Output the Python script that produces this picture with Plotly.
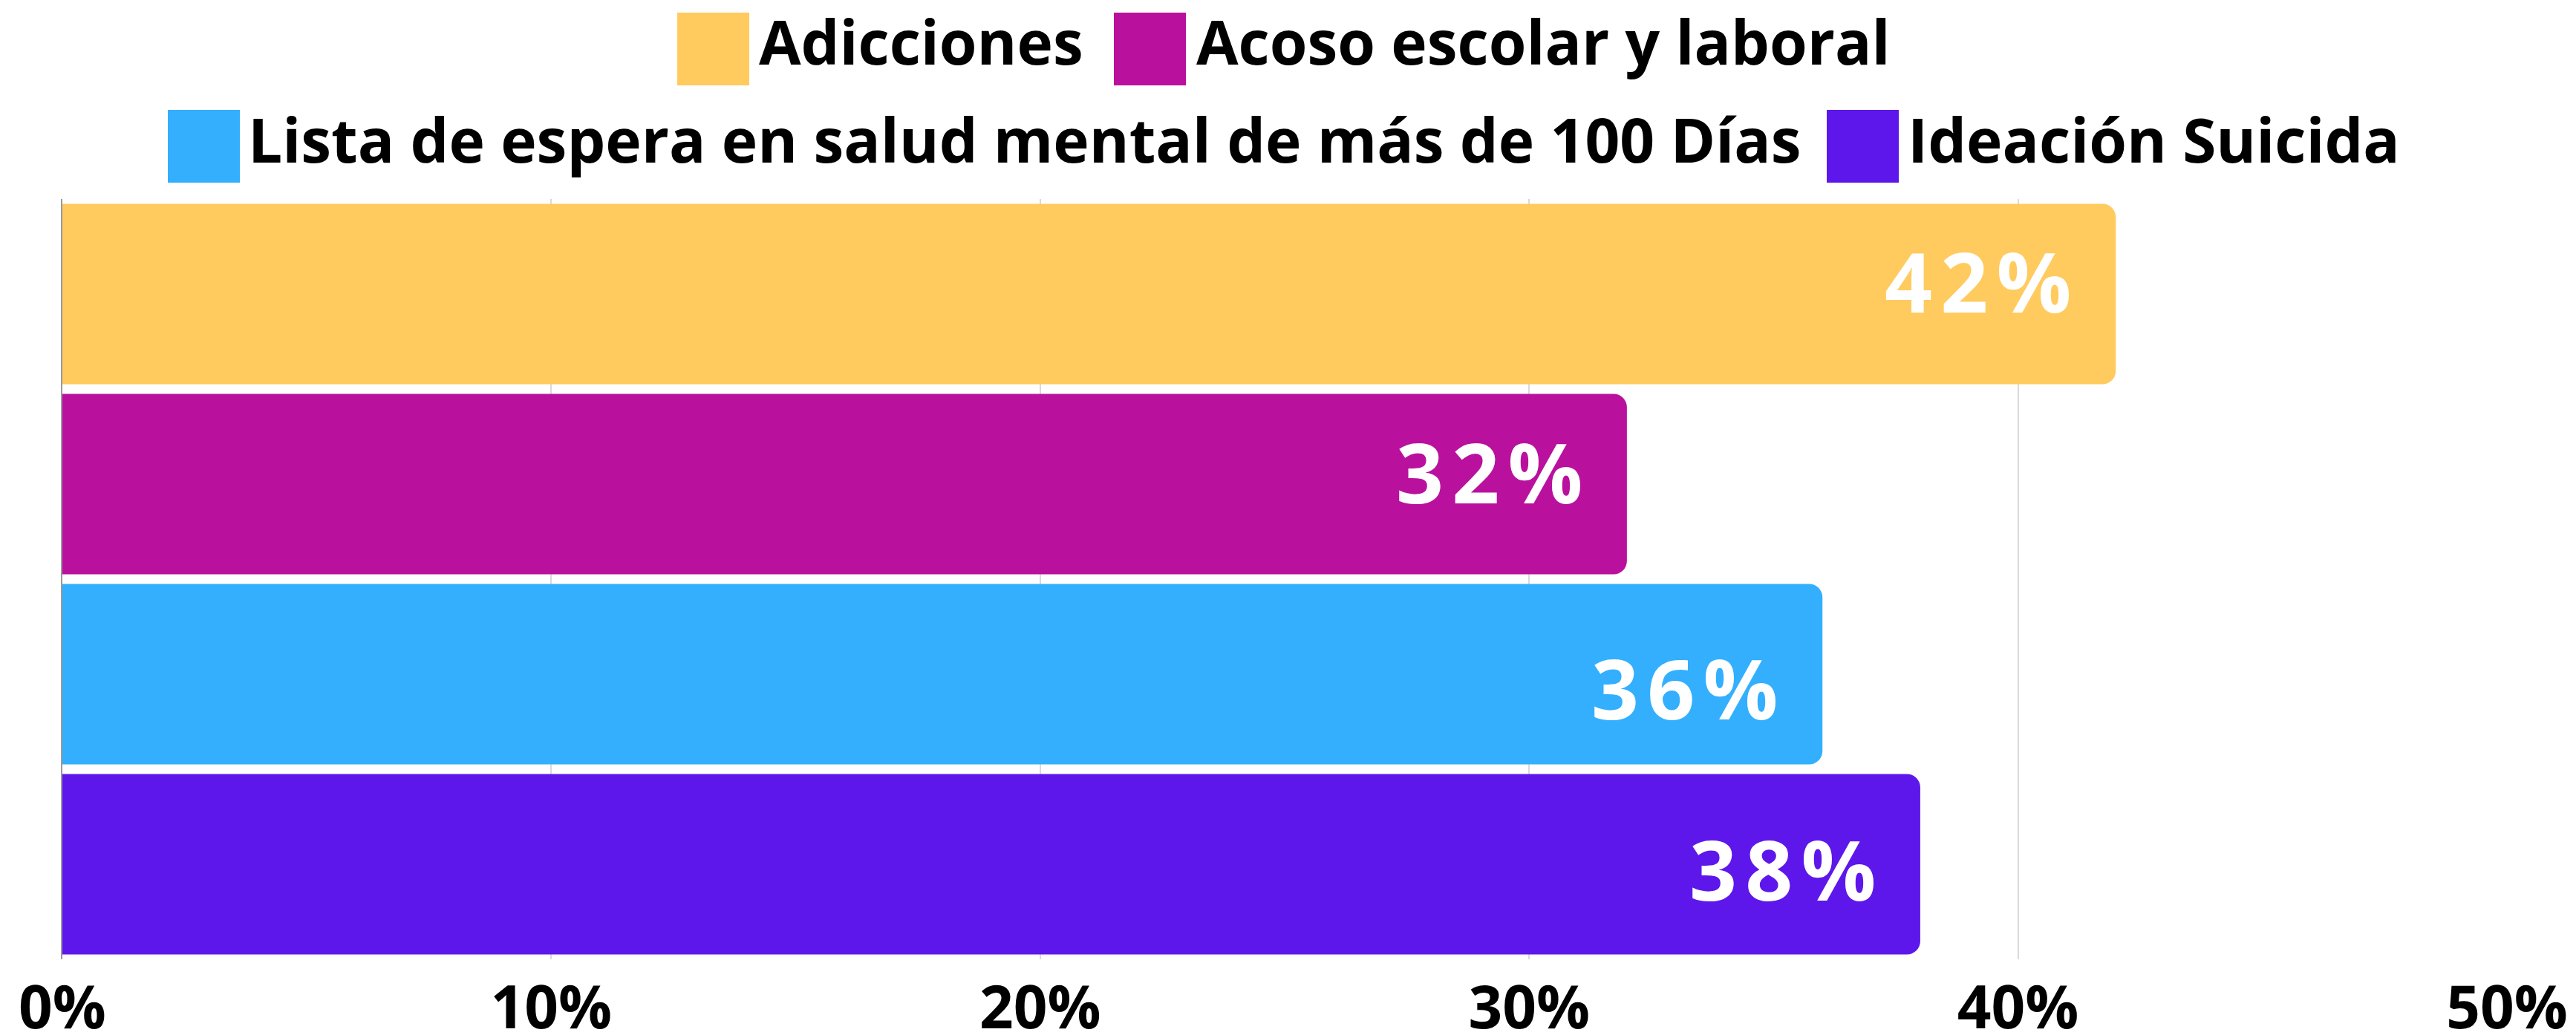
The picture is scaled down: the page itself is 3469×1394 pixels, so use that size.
import plotly.graph_objects as go

categories = ["Adicciones", "Acoso escolar y laboral",
              "Lista de espera en salud mental de más de 100 Días", "Ideación Suicida"]
values = [42, 32, 36, 38]
colors = ["#FFCB5F", "#B9119D", "#33AFFE", "#5E17EB"]
tick_vals = [0, 10, 20, 30, 40, 50]
tick_text = ["0%", "10%", "20%", "30%", "40%", "50%"]

# styling: vertical nudges of value labels (px)
label_yshift = [19, 18, -17, -5]

OFF = 8  # default page body margin
W, H = 3469 - OFF, 1394 - OFF
L, R, T, B = 84 - OFF, 93, 268 - OFF, 102
pw, ph = W - L - R, H - T - B


def px_x(p):
    return (p - OFF - L) / pw


def px_y(p):
    return (H - B - (p - OFF)) / ph


FONT = "Open Sans"

fig = go.Figure()
for cat, val, col, dy in zip(categories, values, colors, label_yshift):
    fig.add_trace(go.Bar(
        x=[val], y=[cat], orientation="h", name=cat,
        marker=dict(color=col, line=dict(width=0)),
        showlegend=False, hoverinfo="x+y",
    ))
    fig.add_annotation(
        x=val, y=cat, xref="x", yref="y", xanchor="right", yanchor="middle",
        xshift=-58, yshift=dy, showarrow=False,
        text="\u200a".join(f"{val}%"),
        font=dict(family=FONT, size=112, color="white", weight="bold"),
    )

# custom legend (large swatches)
legend_rows = [(17, 115, 55), (17, 115, 55), (148, 246, 187), (148, 246, 187)]
swatch_x = [912, 1500, 226, 2460]
text_x = [1020, 1609, 332, 2567]
for cat, col, (y0, y1, yc), sx, tx in zip(categories, colors, legend_rows, swatch_x, text_x):
    fig.add_shape(type="rect", xref="paper", yref="paper",
                  x0=px_x(sx), x1=px_x(sx + 97), y0=px_y(y1), y1=px_y(y0),
                  fillcolor=col, line=dict(width=0), layer="above")
    fig.add_annotation(x=px_x(tx), y=px_y(yc), xref="paper", yref="paper",
                       xanchor="left", yanchor="middle", showarrow=False,
                       text=cat, font=dict(family=FONT, size=82, color="black", weight="bold"))

fig.update_layout(
    width=W, height=H,
    margin=dict(l=L, r=R, t=T, b=B, pad=0, autoexpand=False),
    paper_bgcolor="white", plot_bgcolor="white",
    barmode="relative", bargap=0.05, barcornerradius=18,
    showlegend=False,
    xaxis=dict(range=[0, 50], tickvals=tick_vals, ticktext=tick_text,
               showgrid=True, gridcolor="#DADADA", gridwidth=2,
               zeroline=False, showline=False, ticks="", automargin=False,
               tickfont=dict(family=FONT, size=80, color="black", weight="bold"),
               ticklabelstandoff=12, fixedrange=True),
    yaxis=dict(categoryorder="array", categoryarray=categories, autorange="reversed",
               showticklabels=False, showgrid=False, zeroline=False, automargin=False,
               showline=True, linecolor="#9A9A9A", linewidth=2, ticks="", fixedrange=True),
)

fig.write_html("out.html")
